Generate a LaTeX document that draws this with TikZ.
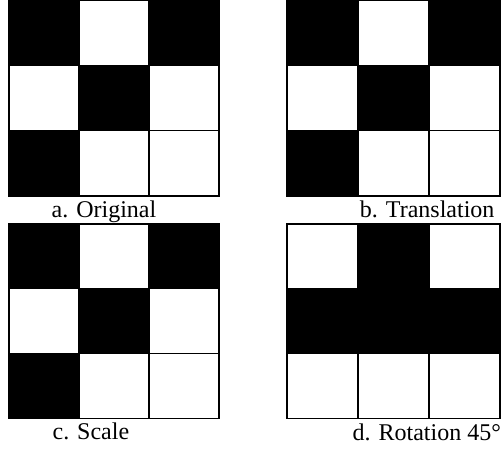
\documentclass[tikz,border=0pt]{standalone}
\usepackage{fontspec}
\setmainfont{Liberation Serif}
\begin{document}
\begin{tikzpicture}[x=1pt,y=-1pt,line width=1.2pt]
\tikzset{caption/.style={font=\fontsize{24}{28}\selectfont, inner sep=0pt}}
\useasboundingbox (0,0) rectangle (502,450);

% a. Original
\begin{scope}[shift={(9,0)}]
\foreach \c/\r in {0/0,2/0,1/1,0/2}
  \fill (70*\c,65.3*\r) rectangle ++(70,65.3);
\foreach \c in {0,1,2} \foreach \r in {0,1,2}
  \draw (70*\c,65.3*\r) rectangle ++(70,65.3);
\end{scope}
\node[caption,anchor=base] (capA) at (104,217) {a. Original};

% b. Translation
\begin{scope}[shift={(287,0)}]
\foreach \c/\r in {0/0,2/0,1/1,0/2}
  \fill (71*\c,65.3*\r) rectangle ++(71,65.3);
\foreach \c in {0,1,2} \foreach \r in {0,1,2}
  \draw (71*\c,65.3*\r) rectangle ++(71,65.3);
\end{scope}
\node[caption,anchor=base east] (capB) at (495,217) {b. Translation};

% c. Scale
\begin{scope}[shift={(9,224)}]
\foreach \c/\r in {0/0,2/0,1/1,0/2}
  \fill (70*\c,64.7*\r) rectangle ++(70,64.7);
\foreach \c in {0,1,2} \foreach \r in {0,1,2}
  \draw (70*\c,64.7*\r) rectangle ++(70,64.7);
\end{scope}
\node[caption,anchor=base west] (capC) at (52,439) {c. Scale};

% d. Rotation 45
\begin{scope}[shift={(287,224)}]
\foreach \c/\r in {1/0,0/1,1/1,2/1}
  \fill (71*\c,64.7*\r) rectangle ++(71,64.7);
\foreach \c in {0,1,2} \foreach \r in {0,1,2}
  \draw (71*\c,64.7*\r) rectangle ++(71,64.7);
\end{scope}
\node[caption,anchor=base east] (capD) at (501.5,440) {d. Rotation 45°};

\end{tikzpicture}
\end{document}
